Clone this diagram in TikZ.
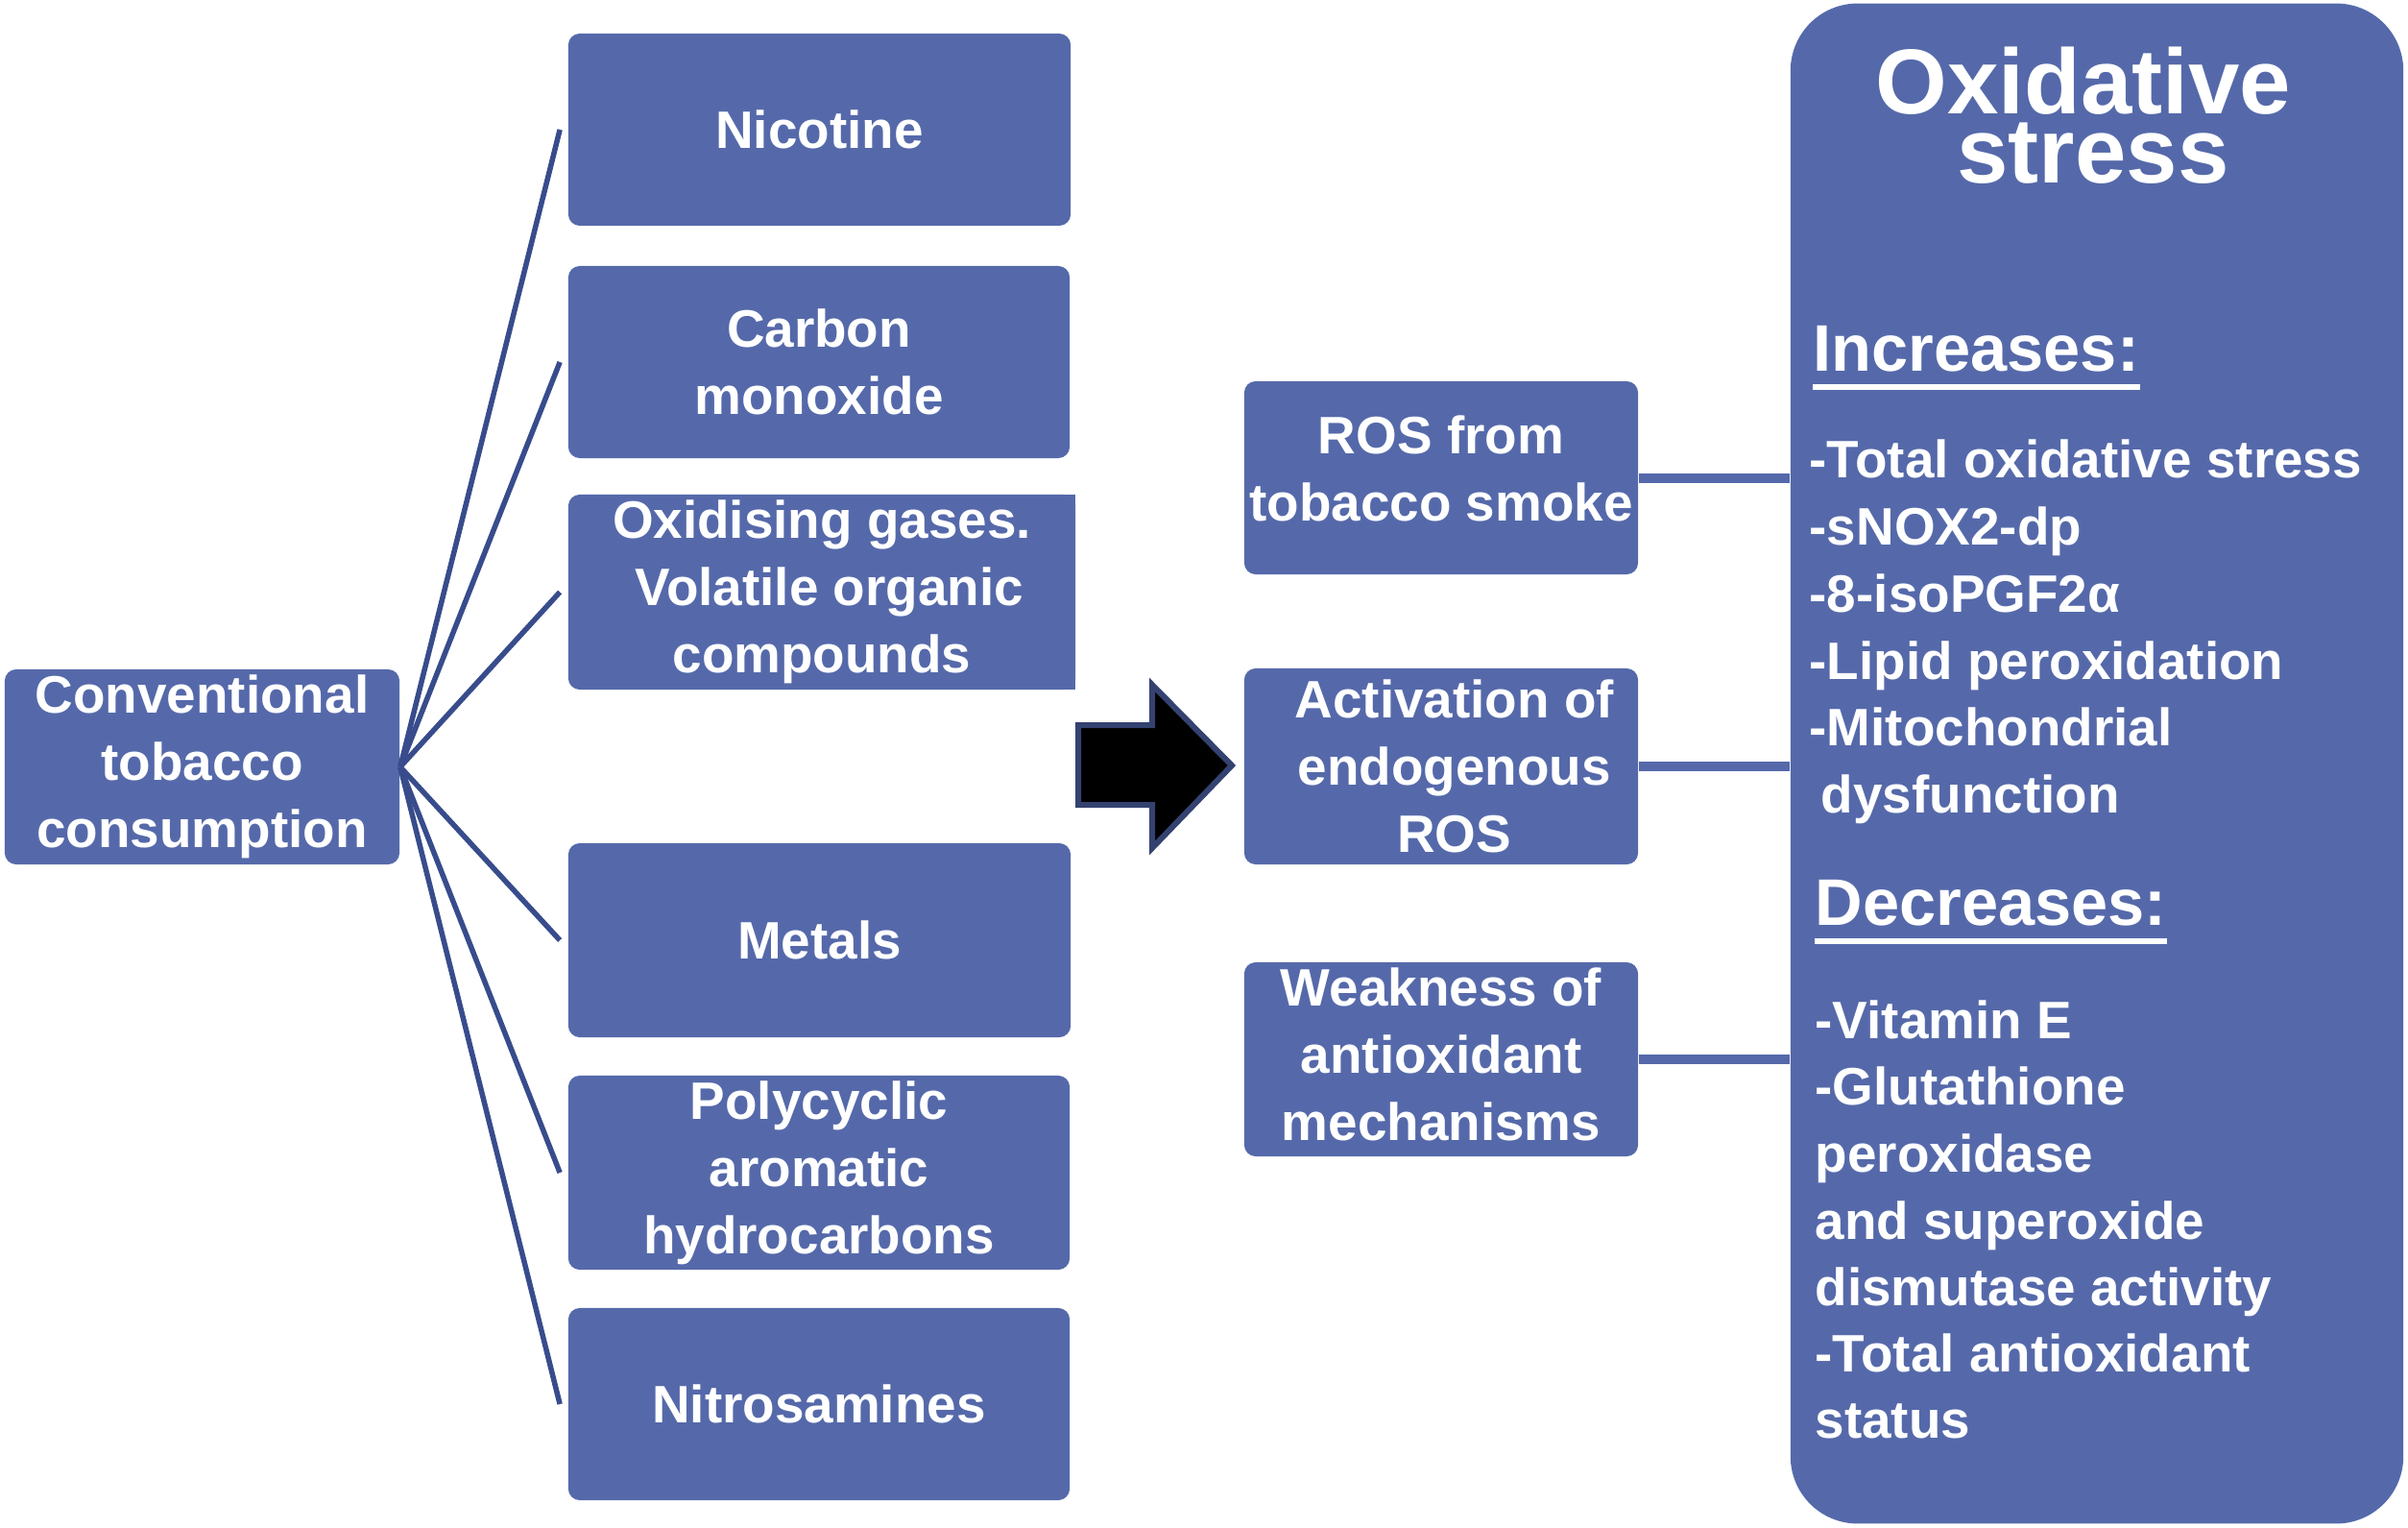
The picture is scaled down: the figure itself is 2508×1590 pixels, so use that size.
\documentclass[tikz,border=0pt]{standalone}
\usepackage{fontspec}
\setmainfont{Liberation Sans}
\definecolor{boxblue}{RGB}{85,105,170}
\definecolor{linenavy}{RGB}{56,76,140}
\definecolor{arrowline}{RGB}{52,66,112}
\begin{document}
\begin{tikzpicture}[x=0.01cm,y=-0.01cm,
  box/.style={draw=none, fill=boxblue, rounded corners=0.12cm, text=white,
    font=\bfseries\fontsize{15.6pt}{19.9pt}\selectfont, align=center, inner sep=0pt},
  bigbox/.style={draw=none, fill=boxblue, rounded corners=0.7cm, inner sep=0pt},
  item/.style={anchor=base west, text=white, inner sep=0pt,
    font=\bfseries\fontsize{15.6pt}{19.9pt}\selectfont},
  head/.style={anchor=base west, text=white, inner sep=0pt,
    font=\bfseries\fontsize{19.5pt}{23pt}\selectfont},
  ttl/.style={anchor=base, text=white, inner sep=0pt,
    font=\bfseries\fontsize{27.3pt}{20pt}\selectfont},
  branch/.style={draw=linenavy, line width=0.055cm},
  link/.style={draw=boxblue, line width=0.10cm}
]
\useasboundingbox (0,0) rectangle (2508,1590);

% left column
\node[box, minimum width=4.11cm, minimum height=2.03cm] (conv) at (210.5,798.5)
  {Conventional\\tobacco\\consumption};
\node[box, minimum width=5.23cm, minimum height=2.00cm] (nic) at (853.5,135) {Nicotine};
\node[box, minimum width=5.22cm, minimum height=2.00cm] (co) at (853,377) {Carbon\\monoxide};
\fill[boxblue] (1095,515) rectangle (1120,718);
\node[box, minimum width=5.28cm, minimum height=2.03cm] (oxg) at (856,616.5)
  {Oxidising gases.\\\hspace*{0.28em}Volatile organic\\compounds};
\node[box, minimum width=5.23cm, minimum height=2.02cm] (met) at (853.5,979) {Metals};
\node[box, minimum width=5.22cm, minimum height=2.02cm] (pah) at (853,1221)
  {Polycyclic\\aromatic\\hydrocarbons};
\node[box, minimum width=5.22cm, minimum height=2.00cm] (nit) at (853,1462) {Nitrosamines};

\foreach \t in {nic,co,oxg,met,pah,nit}
  \draw[branch] (conv.east) -- ([xshift=-0.08cm]\t.west);

% arrow
\draw[fill=black, draw=arrowline, line width=0.06cm, line join=miter]
  (1123,755) -- (1200,755) -- (1200,713) -- (1283,797) -- (1200,883)
  -- (1200,838) -- (1123,838) -- cycle;

% middle column
\node[box, minimum width=4.10cm, minimum height=2.01cm] (ros) at (1501,497.5)
  {ROS from\\tobacco smoke\rule[-0.2cm]{0pt}{0pt}};
\node[box, minimum width=4.10cm, minimum height=2.04cm] (act) at (1501,798)
  {\hspace*{0.5em}Activation of\\\hspace*{0.5em}endogenous\\\hspace*{0.5em}ROS};
\node[box, minimum width=4.10cm, minimum height=2.02cm] (weak) at (1501,1103)
  {Weakness of\\antioxidant\\mechanisms\rule[-0.1cm]{0pt}{0pt}};

% big box
\node[bigbox, minimum width=6.38cm, minimum height=15.82cm] (big) at (2184,795) {};

\draw[link] (ros.east) -- (ros.east -| big.west);
\draw[link] (act.east) -- (act.east -| big.west);
\draw[link] (weak.east) -- (weak.east -| big.west);

% big box contents
\node[ttl] (t1) at (2170,118) {Oxidative};
\node[ttl] (t2) at (2180,190) {stress};

\node[head] (inc) at (1888,386) {Increases:};
\draw[white, line width=0.06cm] ([yshift=-0.17cm]inc.base west) -- ([yshift=-0.17cm]inc.base east);

\node[item] (i1) at (1884,497) {-Total oxidative stress};
\node[item] (i2) at (1884,567) {-sNOX2-dp};
\node[item] (i3) at (1884,637) {-8-isoPGF2α};
\node[item] (i4) at (1884,707) {-Lipid peroxidation};
\node[item] (i5) at (1884,776) {-Mitochondrial};
\node[item] (i6) at (1896,846) {dysfunction};

\node[head] (dec) at (1890,963) {Decreases:};
\draw[white, line width=0.06cm] ([yshift=-0.17cm]dec.base west) -- ([yshift=-0.17cm]dec.base east);

\node[item] (d1) at (1890,1081) {-Vitamin E};
\node[item] (d2) at (1890,1150) {-Glutathione};
\node[item] (d3) at (1890,1220) {peroxidase};
\node[item] (d4) at (1890,1290) {and superoxide};
\node[item] (d5) at (1890,1359) {dismutase activity};
\node[item] (d6) at (1890,1428) {-Total antioxidant};
\node[item] (d7) at (1890,1497) {status};
\end{tikzpicture}
\end{document}
